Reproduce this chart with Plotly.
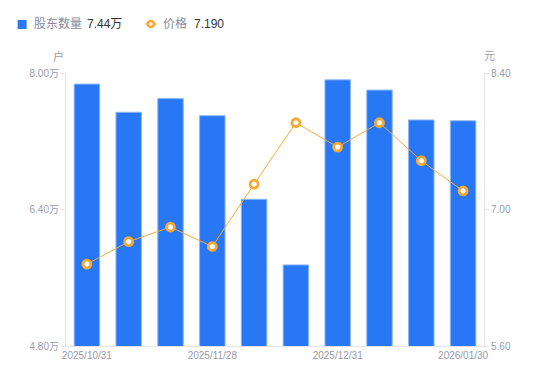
import plotly.graph_objects as go

dates = ["2025/10/31", "2025/11/10", "2025/11/20", "2025/11/28", "2025/12/10",
         "2025/12/19", "2025/12/31", "2026/01/09", "2026/01/20", "2026/01/30"]
holders = [7.87, 7.54, 7.70, 7.50, 6.52, 5.75, 7.92, 7.80, 7.45, 7.44]  # 万户
price = [6.44, 6.67, 6.82, 6.62, 7.26, 7.89, 7.64, 7.89, 7.50, 7.19]
xtick_labels = ["2025/10/31", "2025/11/28", "2025/12/31", "2026/01/30"]
left_ticks = [4.8, 6.4, 8.0]
left_ticktext = ["4.80万", "6.40万", "8.00万"]
right_ticks = [5.6, 7.0, 8.4]
right_ticktext = ["5.60", "7.00", "8.40"]

BLUE = "#2878F5"
ORANGE = "#F7A935"
GRAY = "#9a9aaa"
FONT = "Liberation Sans, Noto Sans CJK SC, sans-serif"

# page has an 8px body margin; plot area in page pixels: x 65..485, y 73..346
OFF = 8
PL, PR, PT, PB = 65.5, 484.5, 73, 346
W, H = 550 - OFF, 381 - OFF
L, R, T, B = PL - OFF, OFF + W - PR, PT - OFF, OFF + H - PB

def px(x):
    return (x - PL) / (PR - PL)

def py(y):
    return (PB - y) / (PB - PT)

fig = go.Figure()
fig.add_trace(go.Bar(x=dates, y=holders, marker=dict(color=BLUE, line=dict(color="#8db8fa", width=1)),
                     width=0.61, yaxis="y", showlegend=False))
fig.add_trace(go.Scatter(x=dates, y=price, mode="lines+markers", yaxis="y2", showlegend=False,
                         line=dict(color=ORANGE, width=1),
                         marker=dict(size=8, color="white", line=dict(color=ORANGE, width=2.8))))

fig.update_layout(
    width=W, height=H, margin=dict(l=L, r=R, t=T, b=B),
    paper_bgcolor="white", plot_bgcolor="white",
    font=dict(family=FONT, size=10, color=GRAY),
    xaxis=dict(type="category", categoryorder="array", categoryarray=dates,
               range=[-0.5, len(dates) - 0.5], autorange=False,
               tickmode="array", tickvals=xtick_labels, ticktext=xtick_labels,
               showline=True, linecolor="#e3e3e8", linewidth=1, ticks="", showgrid=False,
               tickfont=dict(size=10, color=GRAY)),
    yaxis=dict(range=[4.8, 8.0], tickvals=left_ticks, ticktext=left_ticktext, showgrid=False,
               showline=True, linecolor="#e3e3e8", linewidth=1, ticks="outside", ticklen=4,
               tickcolor="#e3e3e8", zeroline=False, tickfont=dict(size=10, color=GRAY)),
    yaxis2=dict(range=[5.6, 8.4], tickvals=right_ticks, ticktext=right_ticktext, overlaying="y",
                side="right", showgrid=False, showline=True, linecolor="#e3e3e8", linewidth=1,
                ticks="outside", ticklen=4, tickcolor="#e3e3e8", zeroline=False,
                tickfont=dict(size=10, color=GRAY)),
)

# axis unit titles
fig.add_annotation(text="户", x=px(58), y=py(56), xref="paper", yref="paper", showarrow=False,
                   font=dict(size=11, color=GRAY), xanchor="center", yanchor="middle")
fig.add_annotation(text="元", x=px(490), y=py(56), xref="paper", yref="paper", showarrow=False,
                   font=dict(size=11, color=GRAY), xanchor="center", yanchor="middle")

# legend
fig.add_shape(type="rect", xref="paper", yref="paper", x0=px(17), x1=px(26), y0=py(20), y1=py(29),
              fillcolor=BLUE, line=dict(width=0))
fig.add_annotation(text="股东数量", x=px(31), y=py(24), xref="paper", yref="paper", showarrow=False,
                   xanchor="left", yanchor="middle", font=dict(size=12, color="#8a8a9a"))
fig.add_annotation(text=f"{holders[-1]:.2f}万", x=px(85), y=py(24), xref="paper", yref="paper",
                   showarrow=False, xanchor="left", yanchor="middle", font=dict(size=12, color="#333333"))
fig.add_shape(type="line", xref="paper", yref="paper", x0=px(145), x1=px(156), y0=py(24), y1=py(24),
              line=dict(color=ORANGE, width=1.5))
fig.add_shape(type="circle", xref="paper", yref="paper", x0=px(147.5), x1=px(153.5), y0=py(21), y1=py(27),
              fillcolor="white", line=dict(color=ORANGE, width=2.5))
fig.add_annotation(text="价格", x=px(161), y=py(24), xref="paper", yref="paper", showarrow=False,
                   xanchor="left", yanchor="middle", font=dict(size=12, color="#8a8a9a"))
fig.add_annotation(text=f"{price[-1]:.3f}", x=px(192), y=py(24), xref="paper", yref="paper",
                   showarrow=False, xanchor="left", yanchor="middle", font=dict(size=12, color="#333333"))

fig.write_html("out.html")
